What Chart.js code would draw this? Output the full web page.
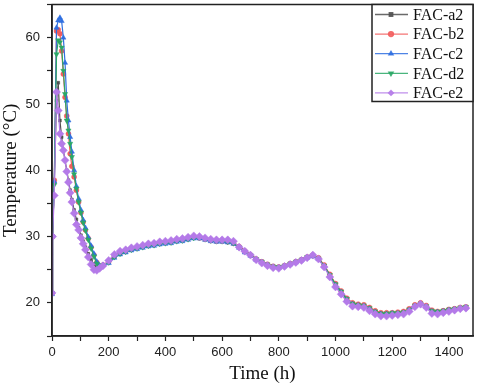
<!DOCTYPE html>
<html>
<head>
<meta charset="utf-8">
<script src="https://cdn.jsdelivr.net/npm/chart.js@4.4.0/dist/chart.umd.min.js"></script>
<style>
  body { margin: 0; background: #fff; }
  #wrap { width: 480px; height: 389px; }
</style>
</head>
<body>
<div id="wrap"><canvas id="tempChart" width="480" height="389"></canvas></div>
<script>
// time axis (h)
const hours = [0, 2, 8, 16, 22, 28, 34, 40, 46, 52, 58, 64, 70, 78, 86, 94, 102, 110, 118, 128, 138, 148, 158, 168, 180,
    200, 220, 240, 260, 280, 300, 320, 340, 360, 380,
    400, 420, 440, 460, 480, 500, 520, 540, 560, 580,
    600, 620, 640, 660, 680, 700, 720, 740, 760, 780,
    800, 820, 840, 860, 880, 900, 920, 940, 960, 980,
    1000, 1020, 1040, 1060, 1080, 1100, 1120, 1140, 1160, 1180,
    1200, 1220, 1240, 1260, 1280, 1300, 1320, 1340, 1360, 1380,
    1400, 1420, 1440, 1460];

// temperatures (°C)
const facA2 = [21.5, 30.0, 38.0, 50.5, 53.2, 47.5, 45, 43, 41.5, 40, 38.5, 37, 35.6, 34, 32.6, 31.3, 30.2, 29.3, 28.4, 27.4, 26.5, 25.8, 25.3, 25.3, 25.6,
    26.3, 27.1, 27.6, 27.9, 28.2, 28.4, 28.6, 28.8, 28.9, 29.1,
    29.2, 29.3, 29.5, 29.6, 29.8, 30.0, 29.9, 29.7, 29.5, 29.4,
    29.4, 29.3, 29.1, 28.5, 27.9, 27.3, 26.7, 26.3, 25.9, 25.6,
    25.5, 25.7, 26.0, 26.3, 26.6, 27.0, 27.2, 26.8, 25.6, 24.2,
    22.8, 21.7, 20.6, 19.9, 19.8, 19.7, 19.3, 18.8, 18.5, 18.5,
    18.5, 18.6, 18.7, 19.1, 19.7, 20.0, 19.6, 18.9, 18.7, 18.9,
    19.1, 19.2, 19.3, 19.4];
const facB2 = [21.4, 30.0, 38.5, 61.0, 61.2, 60.6, 58, 54.5, 51, 48.2, 45.5, 42.5, 40.6, 39, 37, 35.2, 33.6, 32.2, 31, 29.7, 28.4, 27.2, 26.1, 25.5, 25.7,
    26.2, 27.0, 27.5, 27.8, 28.1, 28.3, 28.5, 28.7, 28.8, 29.0,
    29.1, 29.2, 29.4, 29.5, 29.7, 29.9, 29.8, 29.6, 29.4, 29.3,
    29.3, 29.2, 29.0, 28.5, 27.8, 27.2, 26.6, 26.2, 25.8, 25.5,
    25.4, 25.6, 25.9, 26.2, 26.5, 26.9, 27.2, 26.8, 25.7, 24.3,
    22.9, 21.8, 20.7, 20.0, 19.8, 19.7, 19.3, 18.8, 18.5, 18.5,
    18.5, 18.6, 18.7, 19.1, 19.7, 20.0, 19.6, 18.9, 18.7, 18.8,
    19.0, 19.1, 19.3, 19.4];
const facC2 = [21.3, 30.2, 38.3, 61.5, 62.6, 63.0, 62.5, 60, 56.2, 50.5, 47.5, 45, 42.8, 40, 37.6, 35.7, 34, 32.5, 31.3, 29.9, 28.6, 27.4, 26.2, 25.6, 25.7,
    26.0, 26.8, 27.3, 27.6, 27.9, 28.1, 28.3, 28.5, 28.6, 28.8,
    28.9, 29.0, 29.2, 29.3, 29.5, 29.7, 29.7, 29.5, 29.3, 29.2,
    29.2, 29.1, 28.9, 28.3, 27.6, 27.1, 26.5, 26.1, 25.7, 25.4,
    25.3, 25.5, 25.8, 26.1, 26.4, 26.8, 27.0, 26.6, 25.5, 24.1,
    22.7, 21.6, 20.5, 19.8, 19.6, 19.5, 19.1, 18.6, 18.3, 18.3,
    18.4, 18.4, 18.5, 18.9, 19.5, 19.8, 19.4, 18.7, 18.6, 18.7,
    18.9, 19.0, 19.2, 19.3];
const facD2 = [21.5, 30.0, 37.8, 57.5, 59.6, 59.3, 58.5, 55, 51.5, 47.5, 46, 44, 42, 39.4, 37.2, 35.2, 33.6, 32.1, 30.9, 29.5, 28.2, 27, 25.9, 25.4, 25.7,
    26.1, 26.9, 27.4, 27.7, 28.0, 28.2, 28.4, 28.6, 28.7, 28.9,
    29.0, 29.1, 29.3, 29.4, 29.6, 29.8, 29.8, 29.6, 29.4, 29.3,
    29.3, 29.2, 29.0, 28.4, 27.7, 27.2, 26.6, 26.2, 25.8, 25.5,
    25.4, 25.6, 25.9, 26.2, 26.5, 26.9, 27.1, 26.7, 25.6, 24.2,
    22.8, 21.7, 20.6, 19.9, 19.7, 19.6, 19.2, 18.7, 18.4, 18.4,
    18.5, 18.5, 18.6, 19.0, 19.6, 19.9, 19.5, 18.8, 18.7, 18.8,
    19.0, 19.1, 19.3, 19.4];
const facE2 = [21.5, 30.0, 36.2, 51.8, 49.0, 45.5, 44.0, 43.0, 41.5, 39.8, 38.2, 36.6, 35.2, 33.5, 31.8, 31.0, 29.8, 28.9, 28.0, 26.9, 25.8, 25.0, 24.9, 25.2, 25.6,
    26.4, 27.3, 27.8, 28.0, 28.3, 28.5, 28.7, 28.9, 29.0, 29.2,
    29.3, 29.4, 29.6, 29.7, 29.9, 30.1, 30.0, 29.8, 29.6, 29.5,
    29.5, 29.5, 29.3, 28.4, 27.8, 27.2, 26.5, 26.0, 25.6, 25.3,
    25.2, 25.5, 25.8, 26.1, 26.4, 26.8, 27.2, 26.6, 25.4, 23.9,
    22.4, 21.3, 20.2, 19.5, 19.4, 19.3, 18.8, 18.3, 18.0, 18.0,
    18.1, 18.2, 18.3, 18.7, 19.4, 19.8, 19.3, 18.4, 18.3, 18.5,
    18.7, 18.9, 19.1, 19.2];

const seriesNames = ['FAC-a2', 'FAC-b2', 'FAC-c2', 'FAC-d2', 'FAC-e2'];
const seriesValues = [facA2, facB2, facC2, facD2, facE2];
const colors = ['#505050', '#f25c5c', '#2f6fe0', '#2aa866', '#b47ae8'];
const markers = ['rect', 'circle', 'triangle', 'triangle', 'rectRot'];
const rotations = [0, 0, 0, 180, 0];
const radii = [2, 2.5, 3, 3, 4];
const drawOrder = [5, 4, 3, 2, 1];

const datasets = seriesNames.map((name, i) => ({
    label: name,
    data: hours.map((h, j) => ({ x: h, y: seriesValues[i][j] })),
    borderColor: colors[i],
    backgroundColor: colors[i],
    pointBackgroundColor: colors[i],
    pointBorderColor: colors[i],
    pointStyle: markers[i],
    pointRotation: rotations[i],
    pointRadius: radii[i],
    pointBorderWidth: 0.5,
    borderWidth: 1.2,
    tension: 0,
    order: drawOrder[i]
}));

// box around the plot area
const frame = {
    id: 'frame',
    afterDraw(chart) {
        const { ctx, chartArea: a } = chart;
        ctx.save();
        ctx.strokeStyle = '#222';
        ctx.lineWidth = 1.5;
        ctx.strokeRect(a.left, a.top, a.right - a.left, a.bottom - a.top);
        ctx.restore();
    }
};

// legend with line + marker, boxed in the top right corner
const legendBox = {
    id: 'legendBox',
    afterDraw(chart) {
        const { ctx, chartArea: a } = chart;
        const w = 101, h = 97;
        const x0 = a.right - w, y0 = a.top;
        ctx.save();
        ctx.fillStyle = '#fff';
        ctx.fillRect(x0, y0, w, h);
        ctx.strokeStyle = '#222';
        ctx.lineWidth = 1.5;
        ctx.strokeRect(x0, y0, w, h);
        chart.data.datasets.forEach((ds, i) => {
            const y = y0 + 10 + i * 19.6;
            ctx.strokeStyle = ds.borderColor;
            ctx.globalAlpha = 0.85;
            ctx.lineWidth = 1.3;
            ctx.beginPath();
            ctx.moveTo(x0 + 3, y);
            ctx.lineTo(x0 + 36, y);
            ctx.stroke();
            ctx.fillStyle = ds.borderColor;
            Chart.helpers.drawPoint(ctx, {
                pointStyle: ds.pointStyle,
                rotation: ds.pointRotation,
                radius: 2.5,
                borderWidth: 0.5
            }, x0 + 19, y);
            ctx.globalAlpha = 1;
            ctx.fillStyle = '#111';
            ctx.font = '16px "Liberation Serif", "Times New Roman", serif';
            ctx.textBaseline = 'middle';
            ctx.textAlign = 'left';
            ctx.fillText(ds.label, x0 + 41, y + 1);
        });
        ctx.restore();
    }
};

const tickFont = { family: '"Liberation Sans", Arial, sans-serif', size: 13 };
const titleFont = { family: '"Liberation Serif", "Times New Roman", serif', size: 19 };

new Chart(document.getElementById('tempChart'), {
    type: 'line',
    data: { datasets: datasets },
    plugins: [frame, legendBox],
    options: {
        responsive: false,
        animation: false,
        layout: { padding: { top: 3, right: 7, left: 0, bottom: 0 } },
        plugins: {
            legend: { display: false },
            tooltip: { enabled: false }
        },
        scales: {
            x: {
                type: 'linear',
                min: 0,
                max: 1485,
                afterFit: (scale) => { scale.height = 53; scale.paddingRight = 0; scale.paddingLeft = 0; },
                border: { color: '#222', width: 1.5 },
                grid: { drawOnChartArea: false, tickLength: 5, tickColor: '#222', tickWidth: 1.2 },
                ticks: {
                    stepSize: 100,
                    includeBounds: false,
                    autoSkip: false,
                    maxRotation: 0,
                    padding: 4,
                    color: '#222',
                    font: tickFont,
                    callback: (v) => (v % 200 === 0 ? v : '')
                },
                title: { display: true, text: 'Time (h)', color: '#111', font: titleFont, padding: { bottom: 4 } }
            },
            y: {
                min: 15,
                max: 65,
                afterFit: (scale) => { scale.width = 52; scale.paddingTop = 0; scale.paddingBottom = 0; },
                border: { color: '#222', width: 1.5 },
                grid: { drawOnChartArea: false, tickLength: 5, tickColor: '#222', tickWidth: 1.2 },
                ticks: {
                    stepSize: 5,
                    autoSkip: false,
                    padding: 7,
                    color: '#222',
                    font: tickFont,
                    callback: (v) => (v % 10 === 0 && v > 15 && v < 65 ? v : '')
                },
                title: { display: true, text: 'Temperature (°C)', color: '#111', font: titleFont, padding: { top: 0 } }
            }
        }
    }
});
</script>
</body>
</html>
